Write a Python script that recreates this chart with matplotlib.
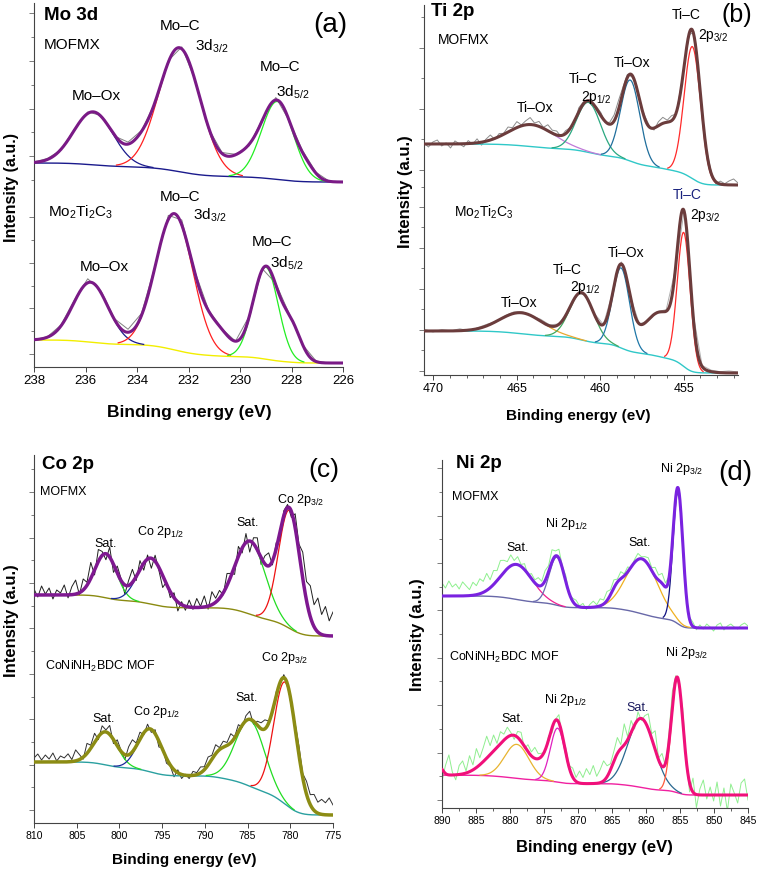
import math
import numpy as np
import matplotlib
matplotlib.use("Agg")
import matplotlib.pyplot as plt
from matplotlib.ticker import FixedLocator, MultipleLocator

plt.rcParams["font.family"] = ["Liberation Sans", "DejaVu Sans"]
plt.rcParams["mathtext.fontset"] = "custom"
plt.rcParams["mathtext.rm"] = "Liberation Sans"
plt.rcParams["mathtext.it"] = "Liberation Sans:italic"
plt.rcParams["mathtext.bf"] = "Liberation Sans:bold"

W, H = 758, 871

# ---------------- fitted peaks: centre (eV), height (a.u.), FWHM (eV) ----------------
# background = Shirley step between [high BE end, low BE end]

# (a) Mo 3d, MOFMX
mo_mof_centre = [235.7, 233.9, 232.35, 229.9, 228.55, 227.4]
mo_mof_height = [5.3, 1.0, 12.4, 1.8, 7.8, 0.8]
mo_mof_fwhm = [1.8, 1.0, 1.9, 1.4, 1.45, 0.8]
mo_mof_bg = [20.4, 18.5]
mo_mof_res = [0.05, 0.1, -0.05, 0.1, 0.15, 0.1, -0.1, 0.2, 0.1, -0.05, 0.15, 0.2,
              0.05, -0.1, 0.1, 0.05, -0.15, 0.1, 0.25, 0.0, 0.2, 0.1, 0.0, 0.05]

# (a) Mo 3d, Mo2Ti2C3
mo_mx_centre = [235.8, 232.55, 230.9, 229.0, 228.0]
mo_mx_height = [6.0, 13.6, 2.3, 9.2, 3.2]
mo_mx_fwhm = [1.6, 1.7, 1.3, 1.15, 0.9]
mo_mx_bg = [2.7, 0.4]
mo_mx_res = [0.0, 0.05, 0.1, 0.2, 0.4, 0.2, 0.1, 0.3, 0.2, 0.1, 0.4, 0.5,
             0.2, 0.1, 0.05, 0.0, 0.1, 0.05, 0.15, 0.1, 0.0, 0.05, 0.0, 0.0]

# (b) Ti 2p, MOFMX
ti_mof_centre = [464.1, 460.7, 459.5, 458.2, 456.0, 454.48]
ti_mof_height = [2.2, 5.0, 1.3, 8.1, 4.6, 13.2]
ti_mof_fwhm = [3.2, 1.7, 1.2, 1.35, 2.5, 1.15]
ti_mof_bg = [23.1, 19.0]
ti_mof_res = [0.1, -0.3, 0.2, 0.4, -0.2, 0.1, -0.4, 0.3, 0.0, -0.3,
              0.3, -0.1, 0.4, -0.3, 0.2, 0.5, -0.1, 0.3, 0.1, 0.5,
              0.2, 0.6, 0.1, 0.4, 0.7, 0.2, 0.5, 0.1, 0.6, 0.3,
              0.4, -0.1, 0.3, 0.1, -0.2, 0.4, 0.2, 0.0, -0.3, 0.2,
              0.3, -0.1, 0.2, 0.6, 0.9, 0.5, 0.3, -0.2, 0.2, -0.1,
              0.3, 0.1, -0.2, 0.4, 0.6, 0.2, 0.5, -0.1, 0.3, 0.1,
              -0.2, 0.3, 0.1, -0.3, 0.2, 0.1, -0.2, 0.3, 0.1, 0.4,
              0.6, 0.2]

# (b) Ti 2p, Mo2Ti2C3
ti_mx_centre = [464.7, 461.1, 458.75, 456.3, 455.0]
ti_mx_height = [2.1, 4.7, 8.0, 4.5, 13.4]
ti_mx_fwhm = [3.0, 1.7, 1.2, 2.6, 0.9]
ti_mx_bg = [4.4, 0.2]
ti_mx_res = [0.2, -0.1, 0.15, 0.0, 0.2, -0.1, 0.1, 0.15, 0.0, 0.1, 0.15, 0.1,
             0.0, 0.2, 0.1, 0.05, -0.05, 0.1, 0.15, 0.1, 0.0, 0.1, 0.2, 0.05,
             0.0, -0.1, 0.1, 0.15, 0.1, 0.05, 0.2, 0.1, 0.15, 0.1, 0.2, 0.1]

# (c) Co 2p, MOFMX
co_mof_centre = [801.6, 796.3, 784.7, 780.1]
co_mof_height = [4.4, 4.6, 7.3, 11.8]
co_mof_fwhm = [3.0, 3.6, 4.2, 3.0]
co_mof_bg = [22.8, 18.7]
co_mof_res = [0.6, -0.2, 0.9, 0.1, 0.7, -0.4, 0.5, 0.2, 1.0, -0.3,
              0.8, 1.4, -0.2, 1.1, 0.3, 1.6, -0.5, 1.2, 0.4, -0.6,
              1.0, -0.8, 0.7, 0.2, -0.9, 0.5, 1.3, -0.4, 0.9, -0.7,
              0.4, -1.0, 0.6, -0.3, -1.2, 0.2, -0.6, 0.5, -0.9, 0.3,
              -0.4, 0.7, -0.2, 0.9, 0.1, 1.1, -0.3, 1.3, 0.4, 0.8,
              -0.2, 1.2, 0.3, -0.8, 1.0, -0.5, 0.9, -1.1, 0.6, 1.2,
              -0.7, 0.8, 1.3, -0.4, 0.6, -0.9, 0.5, 0.3, -0.6, 1.4,
              0.8, 2.6, 1.9, 3.1, 2.2, 3.4, 2.0, 2.9, 1.5, 2.4]

# (c) Co 2p, CoNiNH2BDC MOF
co_coni_centre = [801.6, 796.4, 788.3, 784.7, 780.6]
co_coni_height = [3.3, 4.3, 2.1, 6.6, 12.2]
co_coni_fwhm = [3.2, 3.3, 2.6, 4.0, 3.1]
co_coni_bg = [6.1, 0.8]
co_coni_res = [0.4, 0.8, 0.2, 0.7, 0.3, 0.9, 0.1, 0.6, 0.4, 0.8,
               0.2, 1.1, 0.5, -0.2, 1.0, 0.3, 0.9, -0.3, 0.7, 0.2,
               0.9, -0.4, 0.6, 0.1, -0.5, 0.8, 1.2, 0.3, 0.7, -0.2,
               0.5, -0.3, 0.4, -0.6, 0.2, -0.5, -0.1, -0.7, 0.3, -0.4,
               0.1, -0.3, 0.4, 0.2, 0.6, 0.3, 0.8, 0.4, 0.9, 0.2,
               0.6, 0.3, 0.9, 0.1, 0.7, -0.2, 0.5, 0.8, -0.3, 0.4,
               0.6, 0.9, 0.2, -0.3, 0.4, -0.2, 0.3, 0.1, -0.4, 0.5,
               0.9, 0.4, 1.3, 1.0, 1.6, 1.1, 1.5, 1.2, 1.7, 1.0]

# (d) Ni 2p, MOFMX
ni_mof_centre = [879.0, 873.1, 864.3, 860.6, 857.5, 855.3]
ni_mof_height = [3.5, 4.8, 1.0, 5.5, 1.0, 13.2]
ni_mof_fwhm = [5.5, 2.7, 2.0, 5.5, 1.5, 1.7]
ni_mof_bg = [21.2, 18.0]
ni_mof_res = [1.3, 0.8, 1.5, 0.9, 1.2, 0.7, 1.4, 1.0, 0.6, 1.3,
              0.9, 1.5, 1.1, 1.7, 0.8, 1.4, 1.0, 1.6, 1.2, 0.7,
              1.1, 0.4, 0.8, 0.2, 0.6, -0.1, 0.5, 0.3, 0.8, 0.4,
              1.0, 0.6, 1.2, 0.5, 0.9, 0.2, 0.6, -0.1, 0.3, 0.5,
              0.1, 0.4, -0.2, 0.3, 0.6, 0.2, 0.7, 0.4, 0.9, 0.5,
              0.8, 0.3, 0.7, 0.2, 0.5, -0.1, 0.3, 0.6, 0.2, 0.4,
              0.7, 0.3, 0.9, 0.5, 1.0, 0.4, 0.2, 0.5, -0.1, 0.3,
              0.1, -0.3, 0.2, 0.4, -0.2, 0.3, -0.1, 0.4, 0.1, -0.3,
              0.3, 0.5, -0.2, 0.2, 0.4, 0.1, -0.1, 0.3, 0.5, 0.2]

# (d) Ni 2p, CoNiNH2BDC MOF
ni_coni_centre = [890.4, 882.0, 879.0, 874.8, 873.0, 864.2, 860.7, 855.4]
ni_coni_height = [0.8, 2.0, 3.4, 1.6, 5.4, 1.7, 6.9, 11.4]
ni_coni_fwhm = [1.2, 5.0, 4.2, 3.5, 2.5, 2.2, 4.6, 2.0]
ni_coni_bg = [3.3, 1.3]
ni_coni_res = [-1.2, 0.8, 2.0, 0.3, -0.5, 0.9, 1.3, 0.2, 1.6, 0.5,
               1.9, 0.7, 1.4, 2.2, 0.9, 1.6, 0.4, 1.2, 0.6, 1.0,
               0.3, -0.4, 0.6, 0.9, -0.2, 0.7, 0.4, 1.1, 0.5, 0.3,
               -0.2, 0.4, -0.5, 0.1, 0.8, -0.3, 0.5, 0.2, 0.9, 0.4,
               1.2, 0.6, 1.5, 0.9, 1.8, 0.7, 1.3, 2.0, 1.1, 0.6,
               1.0, 1.6, 0.4, 2.1, 0.3, 1.2, -0.4, 0.8, -0.2, 0.6,
               1.5, 0.5, 1.9, 0.2, 1.3, -0.3, 0.9, 1.6, 0.4, -0.2,
               1.2, 0.3, -0.9, 1.4, -1.3, 0.6, 1.5, -0.4, 0.8, -0.6,
               1.3, -1.1, 0.7, -1.6, 1.1, 0.2, -0.8, 1.2, 1.6, -0.5]

mo_ticks = [238, 236, 234, 232, 230, 228, 226]
ti_ticks = [470, 465, 460, 455]
co_ticks = [810, 805, 800, 795, 790, 785, 780, 775]
ni_ticks = [890, 885, 880, 875, 870, 865, 860, 855, 850, 845]


# ---------------- helpers ----------------
erf = np.vectorize(math.erf)


def gauss(x, c, h, w):
    s = w / 2.3548
    return h * np.exp(-0.5 * ((x - c) / s) ** 2)


def model(x, centres, heights, fwhms, bg):
    hi, lo = bg
    sig = np.array(fwhms) / 2.3548
    area = np.array(heights) * sig
    step = np.zeros_like(x)
    for a, c, s in zip(area, centres, sig):
        step += a * 0.5 * (1 + erf((x - c) / (s * np.sqrt(2))))
    base = lo + (hi - lo) * step / area.sum()
    peaks = [gauss(x, c, h, w) for c, h, w in zip(centres, heights, fwhms)]
    return base, peaks


def draw(ax, centres, heights, fwhms, bg, res, comp_colors, bg_color,
         env_color, raw_color, env_lw=2.2, raw_lw=0.7):
    x0, x1 = ax.get_xlim()
    x = np.linspace(x0, x1, 900)
    base, peaks = model(x, centres, heights, fwhms, bg)
    xr = np.linspace(x0, x1, len(res))
    base_r, peaks_r = model(xr, centres, heights, fwhms, bg)
    raw = base_r + np.sum(peaks_r, axis=0) + np.array(res)
    ax.plot(xr, raw, color=raw_color, lw=raw_lw, zorder=1)
    ax.plot(x, base, color=bg_color, lw=1.0, zorder=2)
    for p, h, col in zip(peaks, heights, comp_colors):
        if col is None:
            continue
        y = np.where(p > 0.01 * h, base + p, np.nan)
        ax.plot(x, y, color=col, lw=0.9, zorder=3)
    ax.plot(x, base + np.sum(peaks, axis=0), color=env_color, lw=env_lw,
            zorder=4, solid_capstyle="round")


fig = plt.figure(figsize=(W / 100, H / 100), dpi=100)


def make_axes(l, r, t, b, xlim, xticks, tick_size, yticks, xminor=None):
    ax = fig.add_axes([l / W, 1 - b / H, (r - l) / W, (b - t) / H])
    ax.set_xlim(*xlim)
    ax.set_ylim(0, (b - t) / 10)
    for s in ("top", "right"):
        ax.spines[s].set_visible(False)
    for s in ("left", "bottom"):
        ax.spines[s].set_color("#444444")
        ax.spines[s].set_linewidth(0.8)
    ax.set_xticks(xticks)
    ax.set_xticklabels([str(v) for v in xticks])
    if xminor:
        ax.xaxis.set_minor_locator(MultipleLocator(xminor))
    ax.yaxis.set_major_locator(FixedLocator(yticks[::2]))
    ax.yaxis.set_minor_locator(FixedLocator(yticks[1::2]))
    ax.tick_params(axis="x", which="major", labelsize=tick_size, length=3.5,
                   width=0.7, color="#444444", pad=2)
    ax.tick_params(axis="x", which="minor", length=2, width=0.6, color="#444444")
    ax.tick_params(axis="y", which="both", labelleft=False, width=0.6,
                   color="#666666")
    ax.tick_params(axis="y", which="major", length=3.5)
    ax.tick_params(axis="y", which="minor", length=2.5)
    return ax


def txt(x, y, s, size=10, ha="center", **kw):
    fig.text(x / W, 1 - y / H, s, fontsize=size, ha=ha, va="center", **kw)


# ---------------- (a) Mo 3d ----------------
ya = list(np.arange(1.3, 16, 2.28)) + list(np.arange(18.7, 36.4, 2.38))
ax_a = make_axes(34, 343, 3, 367, (238, 226), mo_ticks, 9.5, ya)
draw(ax_a, mo_mof_centre, mo_mof_height, mo_mof_fwhm, mo_mof_bg, mo_mof_res,
     ["#1a1a8c", None, "#ff2020", None, "#22ee22", None], "#1a1a8c", "#7a1a86", "#808080")
draw(ax_a, mo_mx_centre, mo_mx_height, mo_mx_fwhm, mo_mx_bg, mo_mx_res,
     ["#1a1a8c", "#ff2020", None, "#22ee22", None], "#f2ee00", "#7a1a86", "#808080")

txt(44, 15, "Mo 3d", 13.5, ha="left", weight="bold")
txt(330, 25, "(a)", 20)
txt(44, 45, "MOFMX", 11, ha="left")
txt(96, 96, "Mo–Ox", 11)
txt(180, 26, "Mo–C", 11)
txt(195, 46, "3d$_{3/2}$", 11, ha="left")
txt(280, 67, "Mo–C", 11)
txt(276, 92, "3d$_{5/2}$", 11, ha="left")
txt(48, 212, "Mo$_2$Ti$_2$C$_3$", 11, ha="left")
txt(180, 197, "Mo–C", 11)
txt(193, 215, "3d$_{3/2}$", 11, ha="left")
txt(104, 267, "Mo–Ox", 11)
txt(272, 242, "Mo–C", 11)
txt(270, 263, "3d$_{5/2}$", 11, ha="left")
txt(189, 412, "Binding energy (eV)", 12.5, weight="bold")
txt(12, 187, "Intensity (a.u.)", 11.5, weight="bold", rotation=90)

# ---------------- (b) Ti 2p ----------------
yb = list(np.arange(0.4, 17.5, 2.05)) + [18.8] + list(np.arange(20.5, 37, 3.05))
ax_b = make_axes(424, 738, 5, 375, (470.55, 451.75), ti_ticks, 9, yb, xminor=1)
draw(ax_b, ti_mof_centre, ti_mof_height, ti_mof_fwhm, ti_mof_bg, ti_mof_res,
     ["#c07ad8", "#2aa880", None, "#1f6e9c", None, "#ff2a2a"], "#30c8c8", "#6b3c3c", "#8c8c8c")
draw(ax_b, ti_mx_centre, ti_mx_height, ti_mx_fwhm, ti_mx_bg, ti_mx_res,
     ["#e8a830", "#40a860", "#1f78a8", None, "#ff2a2a"], "#30c8c8", "#6b3c3c", "#b0b0b0")

txt(431, 12, "Ti 2p", 13.5, ha="left", weight="bold")
txt(737, 15, "(b)", 18)
txt(438, 40, "MOFMX", 10, ha="left")
txt(535, 108, "Ti–Ox", 10)
txt(583, 79, "Ti–C", 10)
txt(596, 97, "2p$_{1/2}$", 10)
txt(632, 63, "Ti–Ox", 10)
txt(686, 15, "Ti–C", 10)
txt(713, 35, "2p$_{3/2}$", 10)
txt(454, 212, "Mo$_2$Ti$_2$C$_3$", 10, ha="left")
txt(687, 195, "Ti–C", 10, color="#1a237e")
txt(705, 215, "2p$_{3/2}$", 10)
txt(626, 253, "Ti–Ox", 10)
txt(567, 270, "Ti–C", 10)
txt(585, 288, "2p$_{1/2}$", 10)
txt(519, 303, "Ti–Ox", 10)
txt(578, 416, "Binding energy (eV)", 11, weight="bold")
txt(405, 192, "Intensity (a.u.)", 12, weight="bold", rotation=90)

# ---------------- (c) Co 2p ----------------
yc = list(np.arange(1.3, 36.8, 2.27))
ax_c = make_axes(34, 333, 455, 823, (810, 775), co_ticks, 7.5, yc)
draw(ax_c, co_mof_centre, co_mof_height, co_mof_fwhm, co_mof_bg, co_mof_res,
     ["#22dd22", "#1a2a9a", "#22dd22", "#ee1111"], "#8a8a10", "#7e1890", "#202020",
     env_lw=2.5)
draw(ax_c, co_coni_centre, co_coni_height, co_coni_fwhm, co_coni_bg, co_coni_res,
     ["#22dd22", "#1a2a9a", None, "#22dd22", "#ee1111"], "#2aa0a0", "#8c8c14", "#303030",
     env_lw=2.5)

txt(42, 464, "Co 2p", 13.5, ha="left", weight="bold")
txt(324, 470, "(c)", 19)
txt(40, 492, "MOFMX", 9, ha="left")
txt(106, 544, "Sat.", 9)
txt(161, 532, "Co 2p$_{1/2}$", 9)
txt(248, 523, "Sat.", 9)
txt(301, 500, "Co 2p$_{3/2}$", 9)
txt(45, 666, "CoNiNH$_2$BDC MOF", 9, ha="left")
txt(104, 719, "Sat.", 9)
txt(157, 712, "Co 2p$_{1/2}$", 9)
txt(247, 698, "Sat.", 9)
txt(285, 658, "Co 2p$_{3/2}$", 9)
txt(184, 860, "Binding energy (eV)", 11, weight="bold")
txt(12, 621, "Intensity (a.u.)", 12, weight="bold", rotation=90)

# ---------------- (d) Ni 2p ----------------
yd = list(np.arange(0.8, 34.8, 2.37))
ax_d = make_axes(442, 748, 460, 808, (890, 845), ni_ticks, 7.5, yd, xminor=2.5)
draw(ax_d, ni_mof_centre, ni_mof_height, ni_mof_fwhm, ni_mof_bg, ni_mof_res,
     ["#ee2090", "#6a6ab0", None, "#f0b020", None, "#101080"], "#6868a8", "#7a22e0", "#8ef08e")
draw(ax_d, ni_coni_centre, ni_coni_height, ni_coni_fwhm, ni_coni_bg, ni_coni_res,
     [None, None, "#e8b430", None, "#e020c0", None, "#2a6890", "#ff5a3c"], "#f020a0", "#f0107a",
     "#90ee90")

txt(456, 463, "Ni 2p", 13.5, ha="left", weight="bold")
txt(735, 473, "(d)", 20)
txt(452, 497, "MOFMX", 9, ha="left")
txt(518, 548, "Sat.", 9)
txt(567, 524, "Ni 2p$_{1/2}$", 9)
txt(640, 543, "Sat.", 9)
txt(682, 469, "Ni 2p$_{3/2}$", 9)
txt(449, 657, "CoNiNH$_2$BDC MOF", 9, ha="left")
txt(513, 719, "Sat.", 9)
txt(566, 700, "Ni 2p$_{1/2}$", 9)
txt(638, 708, "Sat.", 9, color="#1a1a5e")
txt(687, 653, "Ni 2p$_{3/2}$", 9)
txt(594, 847, "Binding energy (eV)", 12, weight="bold")
txt(417, 635, "Intensity (a.u.)", 12, weight="bold", rotation=90)

fig.savefig("out.png", dpi=100)
